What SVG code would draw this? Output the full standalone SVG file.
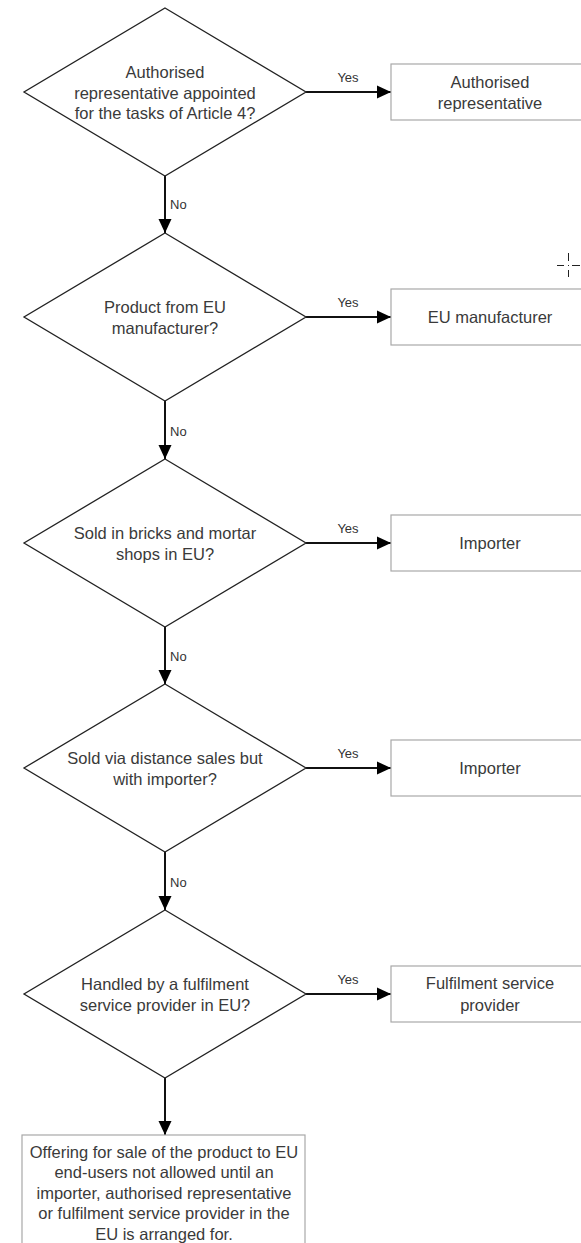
<svg xmlns="http://www.w3.org/2000/svg" width="581" height="1243" viewBox="0 0 581 1243">
<defs>
<marker id="ah" markerUnits="userSpaceOnUse" markerWidth="14" markerHeight="14" viewBox="0 0 14 14" refX="14" refY="7" orient="auto">
<path d="M0,0.5 L14,7 L0,13.5 Z" fill="#000"/>
</marker>
<style>
.dia{fill:#fff;stroke:#222;stroke-width:1.3}
.box{fill:#fff;stroke:#a8a8a8;stroke-width:1.2}
.t{font-family:"Liberation Sans",Arial,sans-serif;font-size:16.5px;fill:#3a3a3a;text-anchor:middle}
.lbl{font-family:"Liberation Sans",Arial,sans-serif;font-size:13px;fill:#333}
.c{fill:none;stroke:#111;stroke-width:2}
</style>
</defs>
<rect width="581" height="1243" fill="#fff"/>
<g id="connectors">
<line class="c" x1="306" y1="92" x2="391" y2="92" marker-end="url(#ah)"/>
<line class="c" x1="306" y1="317" x2="391" y2="317" marker-end="url(#ah)"/>
<line class="c" x1="306" y1="543" x2="391" y2="543" marker-end="url(#ah)"/>
<line class="c" x1="306" y1="768" x2="391" y2="768" marker-end="url(#ah)"/>
<line class="c" x1="306" y1="994" x2="391" y2="994" marker-end="url(#ah)"/>
<line class="c" x1="165" y1="176" x2="165" y2="233" marker-end="url(#ah)"/>
<line class="c" x1="165" y1="401" x2="165" y2="459" marker-end="url(#ah)"/>
<line class="c" x1="165" y1="627" x2="165" y2="684" marker-end="url(#ah)"/>
<line class="c" x1="165" y1="852" x2="165" y2="910" marker-end="url(#ah)"/>
<line class="c" x1="165" y1="1078" x2="165" y2="1135" marker-end="url(#ah)"/>
<text class="lbl" x="348" y="82" text-anchor="middle">Yes</text>
<text class="lbl" x="348" y="307" text-anchor="middle">Yes</text>
<text class="lbl" x="348" y="533" text-anchor="middle">Yes</text>
<text class="lbl" x="348" y="758" text-anchor="middle">Yes</text>
<text class="lbl" x="348" y="984" text-anchor="middle">Yes</text>
<text class="lbl" x="170" y="209">No</text>
<text class="lbl" x="170" y="436">No</text>
<text class="lbl" x="170" y="661">No</text>
<text class="lbl" x="170" y="887">No</text>
</g>
<g id="d1">
<polygon class="dia" points="165,8 306,92 165,176 24,92"/>
<text class="t" x="165" y="78">Authorised</text>
<text class="t" x="165" y="99">representative appointed</text>
<text class="t" x="165" y="119">for the tasks of Article 4?</text>
</g>
<g id="b1">
<rect class="box" x="391" y="64" width="200" height="56"/>
<text class="t" x="490" y="88">Authorised</text>
<text class="t" x="490" y="109">representative</text>
</g>
<g id="d2">
<polygon class="dia" points="165,233 306,317 165,401 24,317"/>
<text class="t" x="165" y="313">Product from EU</text>
<text class="t" x="165" y="334">manufacturer?</text>
</g>
<g id="b2">
<rect class="box" x="391" y="289" width="200" height="56"/>
<text class="t" x="490" y="323">EU manufacturer</text>
</g>
<g id="d3">
<polygon class="dia" points="165,459 306,543 165,627 24,543"/>
<text class="t" x="165" y="539">Sold in bricks and mortar</text>
<text class="t" x="165" y="560">shops in EU?</text>
</g>
<g id="b3">
<rect class="box" x="391" y="515" width="200" height="56"/>
<text class="t" x="490" y="549">Importer</text>
</g>
<g id="d4">
<polygon class="dia" points="165,684 306,768 165,852 24,768"/>
<text class="t" x="165" y="764">Sold via distance sales but</text>
<text class="t" x="165" y="785">with importer?</text>
</g>
<g id="b4">
<rect class="box" x="391" y="740" width="200" height="56"/>
<text class="t" x="490" y="774">Importer</text>
</g>
<g id="d5">
<polygon class="dia" points="165,910 306,994 165,1078 24,994"/>
<text class="t" x="165" y="990">Handled by a fulfilment</text>
<text class="t" x="165" y="1011">service provider in EU?</text>
</g>
<g id="b5">
<rect class="box" x="391" y="966" width="200" height="56"/>
<text class="t" x="490" y="989">Fulfilment service</text>
<text class="t" x="490" y="1011">provider</text>
</g>
<g id="b6">
<rect class="box" x="22" y="1135" width="283" height="120"/>
<text class="t" x="164" y="1158">Offering for sale of the product to EU</text>
<text class="t" x="164" y="1178">end-users not allowed until an</text>
<text class="t" x="164" y="1199">importer, authorised representative</text>
<text class="t" x="164" y="1219">or fulfilment service provider in the</text>
<text class="t" x="164" y="1240">EU is arranged for.</text>
</g>
<g id="cursor" stroke="#222" stroke-width="1">
<line x1="557" y1="265.5" x2="564" y2="265.5"/>
<line x1="572" y1="265.5" x2="580" y2="265.5"/>
<line x1="568.5" y1="253" x2="568.5" y2="261"/>
<line x1="568.5" y1="270" x2="568.5" y2="277"/>
<rect x="568" y="265" width="1" height="1" fill="#222" stroke="none"/>
</g>
</svg>
